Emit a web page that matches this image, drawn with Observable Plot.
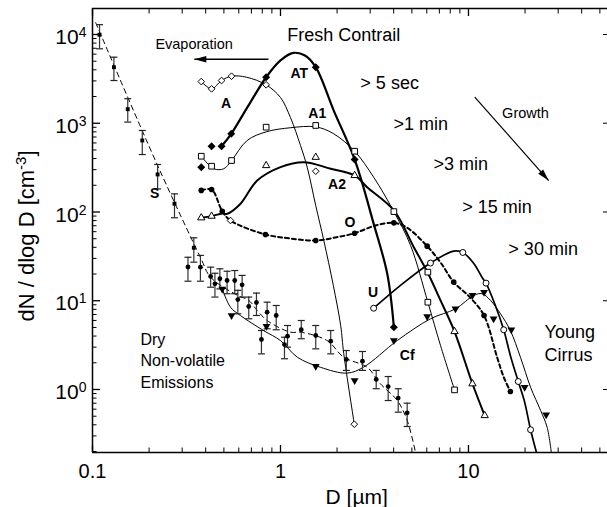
<!DOCTYPE html>
<html><head><meta charset="utf-8">
<script src="https://cdn.jsdelivr.net/npm/d3@7"></script>
<script src="https://cdn.jsdelivr.net/npm/@observablehq/plot@0.6"></script>
<style>html,body{margin:0;padding:0;background:#fff;} svg{display:block;}</style>
</head><body><div id="chart"></div>
<script>
// ---------- axis ticks ----------
const xMajor = [0.1, 1, 10];
const xMinor = [0.2,0.3,0.4,0.5,0.6,0.7,0.8,0.9,2,3,4,5,6,7,8,9,20,30,40,50];
const yMajor = [1, 10, 100, 1000, 10000];
const yMinor = [0.2,0.3,0.4,0.5,0.6,0.7,0.8,0.9,2,3,4,5,6,7,8,9,20,30,40,50,60,70,80,90,
                200,300,400,500,600,700,800,900,2000,3000,4000,5000,6000,7000,8000,9000];

// ---------- AT (filled diamonds, thick) ----------
const atD = [0.379, 0.430, 0.486, 0.547, 0.839, 1.54, 2.48, 4.01];
const atN = [320, 551, 551, 760, 3300, 4280, 391, 5.04];
const atFitD = [0.486, 0.547, 0.676, 0.839, 1.0, 1.17, 1.35, 1.54, 1.92, 2.48, 3.13, 3.70, 4.01];
const atFitN = [551, 760, 1590, 3300, 5100, 6200, 5800, 4280, 1390, 391, 74, 20, 5.04];

// ---------- A (open diamonds, thin) ----------
const aD = [0.379, 0.430, 0.486, 0.549, 0.839, 1.54, 0.542, 2.47];
const aN = [2950, 2440, 3030, 3390, 2710, 288, 80.2, 0.406];
const aFitD = [0.379, 0.430, 0.486, 0.549, 0.66, 0.839, 1.0, 1.13, 1.278, 1.387, 1.54, 1.70, 1.91, 2.09, 2.17, 2.47];
const aFitN = [2950, 2440, 3030, 3390, 3300, 2710, 1950, 1160, 561, 320, 118, 47.7, 14.9, 5.26, 2.54, 0.406];

// ---------- A1 (open squares, thin) ----------
const a1D = [0.379, 0.430, 0.549, 0.839, 1.54, 2.48, 4.01, 6.08, 6.08, 8.43];
const a1N = [425, 328, 380, 903, 944, 484, 101, 21.0, 9.63, 0.99];
const a1FitD = [0.379, 0.442, 0.499, 0.549, 0.665, 0.839, 1.13, 1.54, 1.91, 2.48, 3.13, 4.01, 4.92, 6.08, 7.10, 8.43];
const a1FitN = [425, 307, 307, 380, 640, 800, 890, 910, 766, 484, 247, 101, 42, 9.63, 3.13, 0.99];

// ---------- A2 (open triangles, thick) ----------
const a2D = [0.379, 0.430, 0.839, 1.54, 2.48, 8.43, 10.5, 12.2];
const a2N = [86.1, 89.8, 334, 414, 258, 4.50, 1.16, 0.509];
const a2FitD = [0.379, 0.430, 0.490, 0.520, 0.613, 0.752, 1.0, 1.33, 1.85, 2.48, 2.89, 4.01, 5.12, 6.06, 7.10, 8.43, 10.5, 12.2];
const a2FitN = [86.1, 89.8, 96.2, 95.4, 124, 226, 320, 364, 307, 258, 190, 104, 40.1, 20.8, 10.1, 4.50, 1.16, 0.509];

// ---------- O (filled circles, dashed) ----------
const oD = [0.379, 0.430, 0.490, 0.832, 1.54, 2.48, 4.01, 6.03, 8.35, 12.1, 16.7];
const oN = [175, 179, 102, 55.8, 47.7, 57.7, 75.5, 41.2, 16.2, 6.82, 0.95];
const oFitD = [0.379, 0.430, 0.490, 0.542, 0.832, 1.13, 1.54, 1.96, 2.48, 3.20, 4.01, 4.72, 6.03, 7.10, 8.35, 10.2, 12.1, 14.2, 15.4, 16.7];
const oFitN = [175, 179, 102, 80.2, 55.8, 50.3, 47.7, 51.6, 57.7, 70.5, 75.5, 66.4, 41.2, 27.0, 16.2, 10.9, 6.82, 2.31, 1.38, 0.95];

// ---------- U (open circles) ----------
const uD = [3.13, 6.28, 9.33, 12.4, 15.4, 18.4, 21.4];
const uN = [8.24, 26.6, 35.0, 15.8, 4.71, 1.23, 0.352];
const uFitD = [3.13, 4.35, 6.28, 8.35, 9.33, 10.7, 11.8, 12.4, 13.9, 15.4, 16.7, 18.4, 19.8, 21.4, 23.0];
const uFitN = [8.24, 14.9, 26.6, 36.2, 35.0, 26.1, 18.4, 15.8, 8.84, 4.71, 2.42, 1.23, 0.751, 0.352, 0.195];

// ---------- Cf (filled down triangles, thin) ----------
const cfD = [0.490, 0.549, 0.842, 1.54, 2.48, 4.01, 6.03, 8.53, 10.5, 12.1, 13.6, 16.9, 19.9, 25.9];
const cfN = [13.6, 6.82, 5.17, 1.83, 1.26, 3.56, 6.65, 8.11, 11.5, 12.5, 6.26, 4.71, 1.06, 0.519];
const cfFitD = [0.490, 0.542, 0.613, 0.815, 1.0, 1.23, 1.63, 2.26, 2.76, 4.18, 6.28, 8.53, 10.7, 11.8, 13.1, 14.8, 16.7, 18.9, 21.4, 24.2, 26.2, 27.6];
const cfFitN = [13.6, 8.46, 6.8, 4.6, 3.56, 2.31, 1.78, 1.53, 1.78, 3.56, 6.26, 8.11, 11.5, 12.0, 10.1, 7.13, 4.62, 2.31, 1.06, 0.58, 0.376, 0.195];

// ---------- S (filled squares with error bars, dashed fit) ----------
const sD  = [0.109, 0.130, 0.154, 0.184, 0.222, 0.273, 0.346];
const sN  = [9930, 4280, 1440, 640, 265, 124, 39.5];
const sLo = [6900, 3030, 1030, 444, 182, 86.1, 27.2];
const sHi = [12900, 5550, 1890, 829, 343, 160, 51.2];

// ---------- dry non-volatile emissions (filled circles with error bars) ----------
const dD  = [0.322, 0.375, 0.425, 0.448, 0.476, 0.520, 0.571, 0.625, 0.593, 0.678, 0.745, 0.849, 0.949, 0.792, 1.05, 1.09, 1.29, 1.54, 1.85, 2.24, 2.73, 3.23, 3.74, 4.23, 4.72];
const dN  = [24.0, 23.9, 18.8, 15.5, 17.7, 16.9, 16.9, 15.1, 10.3, 8.61, 9.55, 7.43, 6.82, 3.66, 3.21, 3.99, 4.71, 4.06, 3.50, 2.18, 2.08, 1.30, 1.08, 0.80, 0.546];
const dHi = [30.9, 32.4, 23.9, 20.4, 22.9, 21.5, 21.9, 19.3, 13.1, 11.0, 12.2, 9.63, 8.84, 4.62, 3.88, 5.26, 5.99, 5.26, 4.62, 2.75, 2.68, 1.64, 1.40, 1.02, 0.701];
const dLo = [16.6, 16.6, 14.2, 11.0, 13.6, 12.0, 12.0, 11.0, 7.13, 6.26, 6.82, 4.83, 4.71, 2.52, 2.22, 3.0, 3.73, 2.87, 2.52, 1.64, 1.64, 1.02, 0.751, 0.555, 0.383];

const sFitD = [0.104, 0.222, 0.375, 0.425, 0.591, 0.678, 0.752, 0.849, 1.13, 1.28, 1.77, 2.17, 2.89, 3.40, 4.18, 4.72, 5.23];
const sFitN = [13600, 334, 30.9, 18.4, 11.5, 10.1, 7.77, 5.99, 4.42, 4.42, 3.56, 2.31, 1.78, 1.16, 0.751, 0.448, 0.195];

// ---------- annotations ----------
const bigLabels = ["> 5 sec", ">1 min", ">3 min", "> 15 min", "> 30 min", "Young", "Cirrus"];
const bigD = [2.66, 3.99, 6.51, 9.26, 16.3, 25.4, 25.4];
const bigN = [2826, 968, 343, 113, 38.5, 4.42, 2.46];
const titleLabel = ["Fresh Contrail"]; const titleD = [2.17]; const titleN = [9750];
const dryLabels = ["Dry", "Non-volatile", "Emissions"];
const dryD = [0.180, 0.180, 0.180]; const dryN = [3.63, 2.08, 1.19];
const curveLabels = ["AT", "A", "A1", "A2", "O", "S", "U", "Cf"];
const curveD = [1.26, 0.514, 1.57, 2.00, 2.34, 0.214, 3.11, 4.72];
const curveN = [3664, 1656, 1278, 204, 75.5, 160, 12.5, 2.42];
const evapLabel = ["Evaporation"]; const evapD = [0.347]; const evapN = [7710];
const growLabel = ["Growth"]; const growD = [15.1]; const growN = [1298];
// arrows: [x1, y1, x2, y2]
const evapArrow = [0.863, 5270, 0.348, 5270];
const growArrow = [10.8, 1967, 26.7, 226];

// ---------- helpers ----------
const pts = (xs, ys) => xs.map((x, i) => ({x, y: ys[i]}));
const bars = (xs, ys, lo, hi) => xs.map((x, i) => ({x, y: ys[i], lo: lo[i], hi: hi[i]}));
const labels = (t, xs, ys) => t.map((s, i) => ({text: s, x: xs[i], y: ys[i]}));
const capSymbol = {draw(ctx) { ctx.moveTo(-3.5, 0); ctx.lineTo(3.5, 0); }};
const headSymbol = {draw(ctx) { ctx.moveTo(0, 0); ctx.lineTo(-12, -3.3); ctx.lineTo(-12, 3.3); ctx.closePath(); }};
const font = "'Liberation Sans', Arial, Helvetica, sans-serif";

const sData = bars(sD, sN, sLo, sHi);
const dData = bars(dD, dN, dLo, dHi);
const allBars = sData.concat(dData);

const line = (xs, ys, o) => Plot.line(pts(xs, ys), {x: "x", y: "y", curve: "catmull-rom", stroke: "black", clip: true, ...o});

const chart = Plot.plot({
  width: 607, height: 507,
  marginLeft: 92, marginRight: 0, marginTop: 8, marginBottom: 55,
  style: {fontFamily: font, background: "white", color: "black"},
  x: {type: "log", domain: [0.1, 54.9]},
  y: {type: "log", domain: [0.195, 19630]},
  marks: [
    // frame lines
    Plot.ruleX([0.1], {stroke: "black", strokeWidth: 1.5}),
    Plot.ruleY([0.195], {stroke: "black", strokeWidth: 1.5}),
    Plot.ruleY([19630], {stroke: "black", strokeWidth: 1.5}),
    // inward ticks
    Plot.axisX(xMajor, {anchor: "bottom", tickSize: -7, fill: "none", strokeWidth: 1.3}),
    Plot.axisX(xMinor, {anchor: "bottom", tickSize: -4.5, fill: "none"}),
    Plot.axisX(xMajor, {anchor: "top", tickSize: -7, fill: "none", strokeWidth: 1.3}),
    Plot.axisX(xMinor, {anchor: "top", tickSize: -4.5, fill: "none"}),
    Plot.axisY(yMajor, {anchor: "left", tickSize: -8, fill: "none", strokeWidth: 1.3}),
    Plot.axisY(yMinor, {anchor: "left", tickSize: -4.5, fill: "none"}),
    Plot.axisY(yMajor, {anchor: "right", tickSize: -5, fill: "none"}),
    // tick labels
    Plot.axisX(xMajor, {anchor: "bottom", tickSize: 0, tickPadding: 11, tickFormat: d => String(d), fontSize: 20, label: null}),
    Plot.axisY(yMajor, {anchor: "left", tickSize: 0, tickPadding: 6, dy: 3, tickFormat: d => "10^" + Math.round(Math.log10(d)), fontSize: 21, label: null}),

    // fitted curves
    line(sFitD, sFitN, {strokeWidth: 1, strokeDasharray: "5,4"}),
    line(aFitD, aFitN, {strokeWidth: 1}),
    line(a1FitD, a1FitN, {strokeWidth: 1}),
    line(cfFitD, cfFitN, {strokeWidth: 1}),
    line(a2FitD, a2FitN, {strokeWidth: 2}),
    line(oFitD, oFitN, {strokeWidth: 2, strokeDasharray: "4,3"}),
    line(uFitD, uFitN, {strokeWidth: 1.7}),
    line(atFitD, atFitN, {strokeWidth: 2.2}),

    // error bars
    Plot.ruleX(allBars, {x: "x", y1: "lo", y2: "hi", stroke: "#333", strokeWidth: 1.2}),
    Plot.dot(allBars, {x: "x", y: "lo", symbol: capSymbol, fill: "none", stroke: "#222", strokeWidth: 1.2}),
    Plot.dot(allBars, {x: "x", y: "hi", symbol: capSymbol, fill: "none", stroke: "#222", strokeWidth: 1.2}),
    Plot.dot(sData, {x: "x", y: "y", symbol: "square", r: 2.2, fill: "black", stroke: "none"}),
    Plot.dot(dData, {x: "x", y: "y", symbol: "circle", r: 2.4, fill: "black", stroke: "none"}),

    // markers
    Plot.dot(pts(aD, aN), {x: "x", y: "y", symbol: "diamond2", r: 3.0, fill: "white", stroke: "black", strokeWidth: 1}),
    Plot.dot(pts(a1D, a1N), {x: "x", y: "y", symbol: "square", r: 3.2, fill: "white", stroke: "black", strokeWidth: 1}),
    Plot.dot(pts(a2D, a2N), {x: "x", y: "y", symbol: "triangle", r: 2.7, fill: "white", stroke: "black", strokeWidth: 1}),
    Plot.dot(pts(oD, oN), {x: "x", y: "y", symbol: "circle", r: 2.8, fill: "black", stroke: "none"}),
    Plot.dot(pts(uD, uN), {x: "x", y: "y", symbol: "circle", r: 3.0, fill: "white", stroke: "black", strokeWidth: 1}),
    Plot.dot(pts(cfD, cfN), {x: "x", y: "y", symbol: "triangle", rotate: 180, r: 2.9, fill: "black", stroke: "none"}),
    Plot.dot(pts(atD, atN), {x: "x", y: "y", symbol: "diamond2", r: 3.6, fill: "black", stroke: "none"}),

    // arrows
    Plot.link([evapArrow], {x1: d => d[0], y1: d => d[1], x2: d => d[2], y2: d => d[3], stroke: "black", strokeWidth: 1.6}),
    Plot.dot([evapArrow], {x: d => d[2], y: d => d[3], symbol: headSymbol, rotate: 180, fill: "black", stroke: "none"}),
    Plot.link([growArrow], {x1: d => d[0], y1: d => d[1], x2: d => d[2], y2: d => d[3], stroke: "black", strokeWidth: 1.2}),
    Plot.dot([growArrow], {x: d => d[2], y: d => d[3], symbol: headSymbol, rotate: 48.3, fill: "black", stroke: "none"}),

    // annotations
    Plot.text(labels(titleLabel, titleD, titleN), {x: "x", y: "y", text: "text", fontSize: 18, textAnchor: "middle"}),
    Plot.text(labels(bigLabels, bigD, bigN), {x: "x", y: "y", text: "text", fontSize: 18, textAnchor: "start"}),
    Plot.text(labels(dryLabels, dryD, dryN), {x: "x", y: "y", text: "text", fontSize: 16, textAnchor: "start"}),
    Plot.text(labels(evapLabel, evapD, evapN), {x: "x", y: "y", text: "text", fontSize: 14.5, textAnchor: "middle"}),
    Plot.text(labels(growLabel, growD, growN), {x: "x", y: "y", text: "text", fontSize: 14.5, textAnchor: "start"}),
    Plot.text(labels(curveLabels, curveD, curveN), {x: "x", y: "y", text: "text", fontSize: 14, fontWeight: "bold", textAnchor: "middle"})
  ]
});

document.getElementById("chart").appendChild(chart);

// superscript exponents on y tick labels
const svg = d3.select(chart);
svg.selectAll("text").each(function() {
  const m = /^10\^(-?\d+)$/.exec(this.textContent);
  if (m) {
    const el = d3.select(this);
    el.text("10");
    el.append("tspan").attr("dy", -7).attr("font-size", 14).text(m[1]);
  }
});

// axis titles
const yt = svg.append("text")
  .attr("transform", "translate(33.5,236) rotate(-90)")
  .attr("text-anchor", "middle")
  .attr("font-family", font)
  .attr("font-size", 22)
  .attr("fill", "black");
yt.append("tspan").text("dN / dlog D [cm");
yt.append("tspan").attr("dy", -8).attr("font-size", 15).text("-3");
yt.append("tspan").attr("dy", 8).text("]");

svg.append("text")
  .attr("x", 356.7).attr("y", 503.5)
  .attr("text-anchor", "middle")
  .attr("font-family", font)
  .attr("font-size", 21)
  .attr("fill", "black")
  .text("D [µm]");
</script>
</body></html>
